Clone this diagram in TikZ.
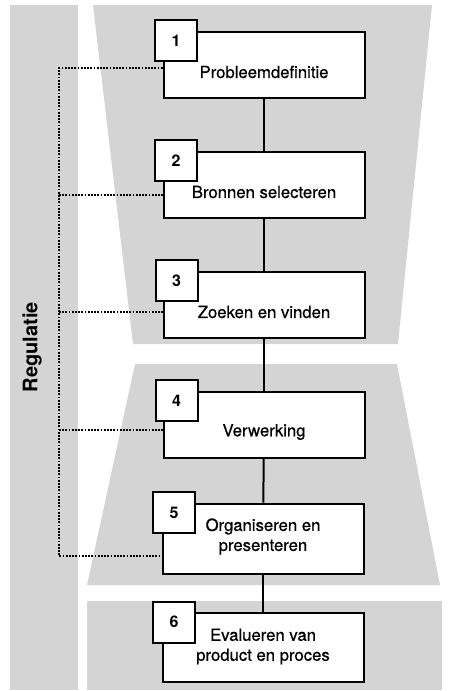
\documentclass[tikz,border=0pt]{standalone}
\usepackage{fontspec}
\setmainfont{TeX Gyre Heros}
\newfontfamily\printfont{TeX Gyre Heros}[FakeBold=0.6]
\usetikzlibrary{positioning}
\tikzset{
        backdrop/.style={fill=black!17, draw=none},
        stage/.style={draw=black, line width=2pt, fill=white, minimum width=201pt, minimum height=66pt, inner sep=0pt},
        numbox/.style={draw=black, line width=2pt, fill=white, minimum width=42pt, minimum height=41pt, inner sep=0pt, font=\fontsize{16}{18}\selectfont\bfseries},
        stagetext/.style={align=center, inner sep=0pt, font=\printfont\fontsize{16.7}{20}\selectfont},
        link/.style={line width=2pt},
        regline/.style={line width=2.4pt, dash pattern=on 1.8pt off 1.4pt},
        regtext/.style={rotate=90, inner sep=0pt, font=\fontsize{20}{24}\selectfont\bfseries}
          }
\begin{document}
\begin{tikzpicture}[x=1pt, y=-1pt]
        \useasboundingbox (0,0) rectangle (448,691);
        \fill[backdrop] (10,5) rectangle (78,690);
        \fill[backdrop] (93,5) -- (432,5) -- (398,344) -- (133,344) -- cycle;
        \fill[backdrop] (135,364) -- (397,364) -- (440,585) -- (87,585) -- cycle;
        \fill[backdrop] (87,601) rectangle (442,690);

        \node[stage] (b1) at (264,64.5) {};
        \node[stage] (b2) at (264,184.5) {};
        \node[stage] (b3) at (264,304.5) {};
        \node[stage] (b4) at (264,424.5) {};
        \node[stage, minimum height=70pt] (b5) at (263,538.5) {};
        \node[stage, minimum height=69pt] (b6) at (263,647.5) {};

        \node[numbox] (n1) at ([xshift=13.5pt, yshift=-10pt]b1.north west) {1};
        \node[numbox] (n2) at ([xshift=13.5pt, yshift=-10pt]b2.north west) {2};
        \node[numbox] (n3) at ([xshift=14pt, yshift=-10pt]b3.north west) {3};
        \node[numbox] (n4) at ([xshift=14pt, yshift=-10pt]b4.north west) {4};
        \node[numbox] (n5) at ([xshift=12.5pt, yshift=-10pt]b5.north west) {5};
        \node[numbox] (n6) at ([xshift=12.5pt, yshift=-10pt]b6.north west) {6};

        \node[stagetext] (t1) at ([yshift=-7.5pt]b1.center) {Probleemdefinitie};
        \node[stagetext] (t2) at ([yshift=-7.5pt]b2.center) {Bronnen selecteren};
        \node[stagetext] (t3) at ([yshift=-7.5pt]b3.center) {Zoeken en vinden};
        \node[stagetext] (t4) at ([yshift=-7.5pt]b4.center) {Verwerking};
        \node[stagetext] (t5) at ([yshift=2pt]b5.center) {Organiseren en\\presenteren};
        \node[stagetext] (t6) at ([yshift=1pt]b6.center) {Evalueren van\\product en proces};

        \draw[link] (b1) -- (b2);
        \draw[link] (b2) -- (b3);
        \draw[link] (b3) -- (b4);
        \draw[link] (b4) -- (b5);
        \draw[link] (b5) -- (b6);

        \coordinate (r1) at (59,68);
        \coordinate (r2) at (59,195);
        \coordinate (r3) at (59,312);
        \coordinate (r4) at (59,430);
        \coordinate (r5) at (59,556);
        \draw[regline] (r1 -| b1.west) -- (r1) -- (r5) -- (r5 -| b5.west);
        \draw[regline] (r2) -- (r2 -| b2.west);
        \draw[regline] (r3) -- (r3 -| b3.west);
        \draw[regline] (r4) -- (r4 -| b4.west);

        \node[regtext] (reg) at (32,347) {Regulatie};
      \end{tikzpicture}
\end{document}
